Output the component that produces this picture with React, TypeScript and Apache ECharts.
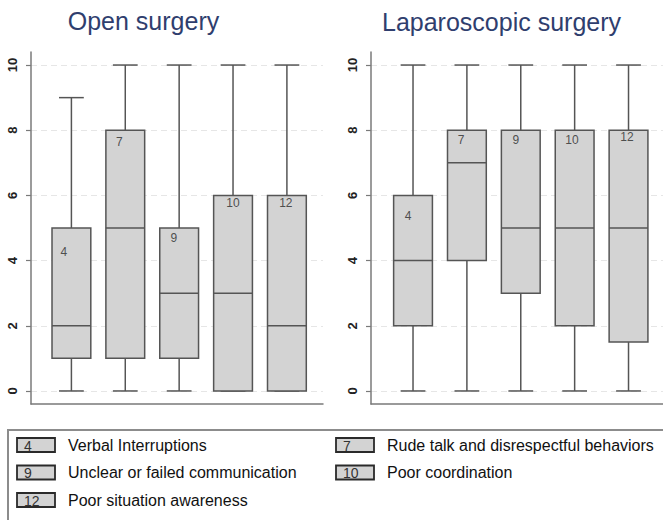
import React, { useEffect, useRef } from 'react';
import * as echarts from 'echarts';

// ---------- data ----------
const positions = [1, 2, 3, 4, 5];
const codes = ['4', '7', '9', '10', '12'];
// [low, Q1, median, Q3, high]
const openStats = [
  [0, 1, 2, 5, 9],
  [0, 1, 5, 8, 10],
  [0, 1, 3, 5, 10],
  [0, 0, 3, 6, 10],
  [0, 0, 2, 6, 10],
];
const lapStats = [
  [0, 2, 4, 6, 10],
  [0, 4, 7, 8, 10],
  [0, 3, 5, 8, 10],
  [0, 2, 5, 8, 10],
  [0, 1.5, 5, 8, 10],
];
// in-box code label anchors (data units)
const openLabelX = [0.86, 1.89, 2.9, 4.0, 4.98];
const openLabelY = [4.27, 7.64, 4.7, 5.77, 5.76];
const lapLabelX = [0.91, 1.89, 2.91, 3.95, 4.97];
const lapLabelY = [5.36, 7.7, 7.7, 7.7, 7.78];
const yTicks = [0, 2, 4, 6, 8, 10];
const titles = ['Open surgery', 'Laparoscopic surgery'];
const legendCodes = ['4', '7', '9', '10', '12'];
const legendLabels = [
  'Verbal Interruptions',
  'Rude talk and disrespectful behaviors',
  'Unclear or failed communication',
  'Poor coordination',
  'Poor situation awareness',
];

const FONT = '"Liberation Sans", Arial, Helvetica, sans-serif';
const STROKE = '#555555';
const AXIS = '#7a7a7a';

const renderBox = (params: any, api: any) => {
  const x = api.value(0);
  const lo = api.value(1);
  const q1 = api.value(2);
  const med = api.value(3);
  const q3 = api.value(4);
  const hi = api.value(5);
  const unit = api.size([1, 0])[0];
  const bw = unit * 0.72;
  const cw = unit * 0.46;
  const pLo = api.coord([x, lo]);
  const pQ1 = api.coord([x, q1]);
  const pMed = api.coord([x, med]);
  const pQ3 = api.coord([x, q3]);
  const pHi = api.coord([x, hi]);
  const cx = pLo[0];
  const ls = { stroke: STROKE, lineWidth: 1.5 };
  return {
    type: 'group',
    children: [
      { type: 'line', shape: { x1: cx, y1: pHi[1], x2: cx, y2: pQ3[1] }, style: ls },
      { type: 'line', shape: { x1: cx, y1: pQ1[1], x2: cx, y2: pLo[1] }, style: ls },
      { type: 'line', shape: { x1: cx - cw / 2, y1: pHi[1], x2: cx + cw / 2, y2: pHi[1] }, style: ls },
      { type: 'line', shape: { x1: cx - cw / 2, y1: pLo[1], x2: cx + cw / 2, y2: pLo[1] }, style: ls },
      {
        type: 'rect',
        shape: { x: cx - bw / 2, y: pQ3[1], width: bw, height: pQ1[1] - pQ3[1] },
        style: { fill: '#d3d3d3', stroke: STROKE, lineWidth: 1.5 },
      },
      { type: 'line', shape: { x1: cx - bw / 2, y1: pMed[1], x2: cx + bw / 2, y2: pMed[1] }, style: ls },
    ],
  };
};

const makeY = (gridIndex: number) => ({
  gridIndex,
  type: 'value',
  min: -0.4,
  max: 10.4,
  axisLine: { show: true, lineStyle: { color: AXIS, width: 1.5 } },
  axisTick: { show: true, length: 5, customValues: yTicks, lineStyle: { color: AXIS, width: 1.2 } },
  axisLabel: {
    customValues: yTicks,
    rotate: 90,
    margin: 12,
    fontSize: 13,
    fontWeight: 'bold',
    color: '#222',
    fontFamily: FONT,
  },
  splitLine: { show: true, lineStyle: { color: '#e6e6e6', type: [6, 4], width: 1 } },
});

const makeX = (gridIndex: number, min: number, max: number) => ({
  gridIndex,
  type: 'value',
  min,
  max,
  axisLine: { show: true, onZero: false, lineStyle: { color: AXIS, width: 1.5 } },
  axisTick: { show: false },
  axisLabel: { show: false },
  splitLine: { show: false },
});

export default function App() {
  const ref = useRef<HTMLDivElement>(null);
  useEffect(() => {
    document.body.style.margin = '0';
    if (!ref.current) return;
    const chart = echarts.init(ref.current, null, { renderer: 'svg' });

    const boxData = (stats: number[][]) => stats.map((s, i) => [positions[i], ...s]);
    const labelData = (xs: number[], ys: number[]) =>
      codes.map((c, i) => ({ name: c, value: [xs[i], ys[i]] }));

    const labelSeries = (idx: number, xs: number[], ys: number[]) => ({
      type: 'scatter',
      xAxisIndex: idx,
      yAxisIndex: idx,
      symbolSize: 0,
      data: labelData(xs, ys),
      label: {
        show: true,
        position: 'inside',
        formatter: '{b}',
        fontSize: 12,
        color: '#2a2a2a',
        fontFamily: FONT,
      },
      z: 5,
    });

    const graphics: any[] = [];
    graphics.push({
      type: 'text',
      x: 143.5,
      y: 21,
      style: { text: titles[0], font: `25px ${FONT}`, fill: '#2f3e6e', textAlign: 'center', textVerticalAlign: 'middle' },
    });
    graphics.push({
      type: 'text',
      x: 501.5,
      y: 22,
      style: { text: titles[1], font: `25px ${FONT}`, fill: '#2f3e6e', textAlign: 'center', textVerticalAlign: 'middle' },
    });
    graphics.push({
      type: 'rect',
      shape: { x: 8, y: 430, width: 720, height: 140 },
      style: { fill: '#ffffff', stroke: '#8c8c8c', lineWidth: 2 },
      z: 0,
    });
    legendCodes.forEach((c, i) => {
      const col = i % 2;
      const row = Math.floor(i / 2);
      const bx = col === 0 ? 17 : 336;
      const cy = 445 + row * 27.5;
      graphics.push({
        type: 'rect',
        shape: { x: bx, y: cy - 7, width: 38, height: 14 },
        style: { fill: '#d3d3d3', stroke: '#2a2a2a', lineWidth: 1.8 },
        z: 1,
      });
      graphics.push({
        type: 'text',
        x: bx + 7,
        y: cy + 0.5,
        style: { text: c, font: `14px ${FONT}`, fill: '#333', textAlign: 'left', textVerticalAlign: 'middle' },
        z: 2,
      });
      graphics.push({
        type: 'text',
        x: bx + 51,
        y: cy,
        style: { text: legendLabels[i], font: `16px ${FONT}`, fill: '#111', textAlign: 'left', textVerticalAlign: 'middle' },
        z: 2,
      });
    });

    chart.setOption({
      animation: false,
      backgroundColor: '#ffffff',
      grid: [
        { left: 31, top: 52, width: 292, height: 352 },
        { left: 371, top: 52, width: 292, height: 352 },
      ],
      xAxis: [makeX(0, 0.25, 5.67), makeX(1, 0.22, 5.64)],
      yAxis: [makeY(0), makeY(1)],
      series: [
        {
          type: 'custom',
          xAxisIndex: 0,
          yAxisIndex: 0,
          renderItem: renderBox,
          encode: { x: 0, y: [1, 2, 3, 4, 5] },
          data: boxData(openStats),
          z: 3,
        },
        {
          type: 'custom',
          xAxisIndex: 1,
          yAxisIndex: 1,
          renderItem: renderBox,
          encode: { x: 0, y: [1, 2, 3, 4, 5] },
          data: boxData(lapStats),
          z: 3,
        },
        labelSeries(0, openLabelX, openLabelY),
        labelSeries(1, lapLabelX, lapLabelY),
      ],
      graphic: graphics,
    });
    return () => chart.dispose();
  }, []);
  return <div ref={ref} style={{ width: 663, height: 520 }} />;
}
